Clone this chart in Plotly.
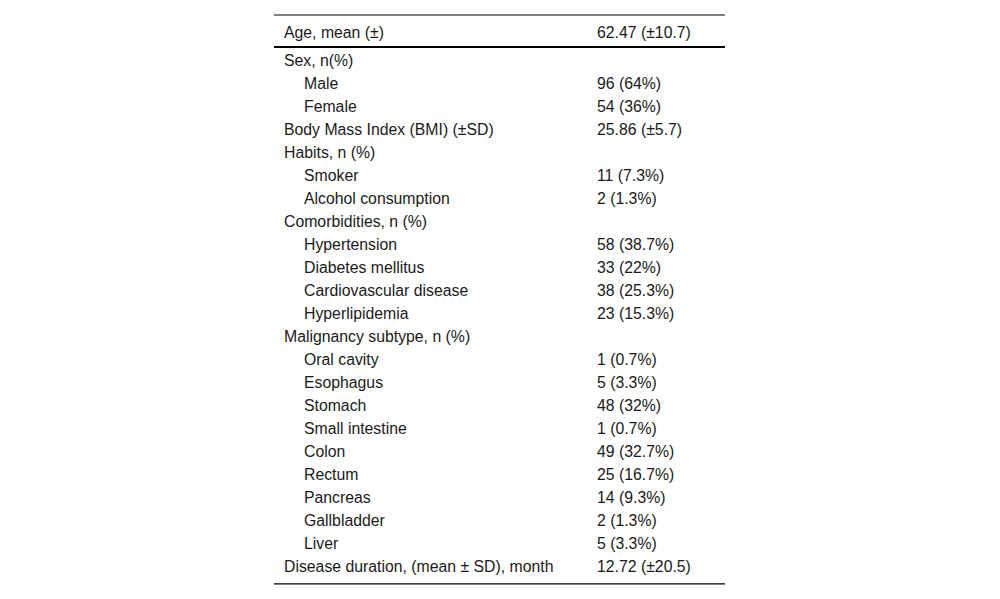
import plotly.graph_objects as go

# table content
labels = [
    "Sex, n(%)", "Male", "Female", "Body Mass Index (BMI) (±SD)",
    "Habits, n (%)", "Smoker", "Alcohol consumption",
    "Comorbidities, n (%)", "Hypertension", "Diabetes mellitus",
    "Cardiovascular disease", "Hyperlipidemia",
    "Malignancy subtype, n (%)", "Oral cavity", "Esophagus", "Stomach",
    "Small intestine", "Colon", "Rectum", "Pancreas", "Gallbladder", "Liver",
    "Disease duration, (mean ± SD), month",
]
values = [
    "", "96 (64%)", "54 (36%)", "25.86 (±5.7)",
    "", "11 (7.3%)", "2 (1.3%)",
    "", "58 (38.7%)", "33 (22%)", "38 (25.3%)", "23 (15.3%)",
    "", "1 (0.7%)", "5 (3.3%)", "48 (32%)", "1 (0.7%)", "49 (32.7%)",
    "25 (16.7%)", "14 (9.3%)", "2 (1.3%)", "5 (3.3%)",
    "12.72 (±20.5)",
]
indented = [False, True, True, False, False, True, True, False, True, True,
            True, True, False, True, True, True, True, True, True, True,
            True, True, False]
header_label = "Age, mean (±)"
header_value = "62.47 (±10.7)"

font = dict(family="Liberation Sans, Arial, sans-serif", size=15.8, color="#1a1a1a")

row_h = 23
dy = 2 / row_h  # small nudge so the text sits centred in its row
rows = [i + dy for i in range(len(labels))]
header_y = -1.22 + dy
off = 8  # page body margin

fig = go.Figure()

# first column (group rows / indented rows)
fig.add_trace(go.Scatter(
    x=[304 if ind else 284 for ind in indented] + [284],
    y=rows + [header_y],
    text=labels + [header_label],
    mode="text", textposition="middle right",
    textfont=font, hoverinfo="skip", showlegend=False,
))
# second column
fig.add_trace(go.Scatter(
    x=[597] * (len(values) + 1),
    y=rows + [header_y],
    text=values + [header_value],
    mode="text", textposition="middle right",
    textfont=font, hoverinfo="skip", showlegend=False,
))

# horizontal rules
rules = [(-1.957, 1), (-0.56, 2), (22.78, 1.3)]
for y, w in rules:
    fig.add_shape(type="line", x0=274, x1=725, y0=y, y1=y,
                  xref="x", yref="y", line=dict(color="black", width=w))

fig.update_xaxes(range=[off, 1000 + off], visible=False)
fig.update_yaxes(range=[(599 - 60 + off) / row_h, -(60 - off) / row_h], visible=False)
fig.update_layout(
    width=1000, height=599,
    margin=dict(l=0, r=0, t=0, b=0),
    paper_bgcolor="white", plot_bgcolor="white",
)

fig.write_html("out.html")
